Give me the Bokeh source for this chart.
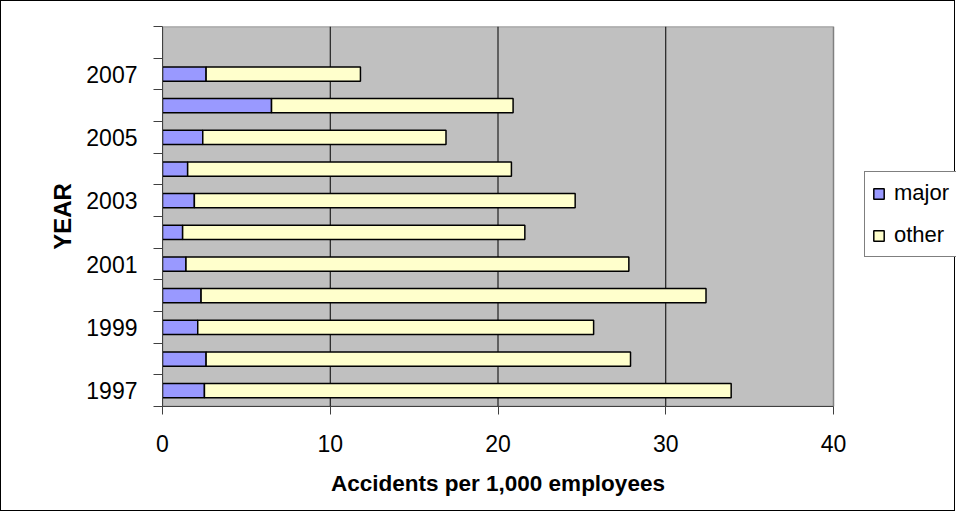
from bokeh.plotting import figure
from bokeh.models import Range1d, FixedTicker, Legend, LegendItem, ColumnDataSource, Title
from bokeh.embed import file_html
from bokeh.resources import INLINE

years = [1997, 1998, 1999, 2000, 2001, 2002, 2003, 2004, 2005, 2006, 2007]
major = [2.5, 2.6, 2.1, 2.3, 1.4, 1.2, 1.9, 1.5, 2.4, 6.5, 2.6]
other = [31.4, 25.3, 23.6, 30.1, 26.4, 20.4, 22.7, 19.3, 14.5, 14.4, 9.2]
series = ["major", "other"]
colors = ["#9999FF", "#FFFFCC"]
x_ticks = [0, 10, 20, 30, 40]
x_title = "Accidents per 1,000 employees"

pos = [i + 1 for i in range(len(years))]
source = ColumnDataSource(dict(y=pos, major=major, other=other))

FONT = "Liberation Sans"

X_MAX = x_ticks[-1]
Y_LO, Y_HI = 0.5, len(years) + 1.5
# frame extends to the right edge so the legend can sit inside it; the plot area is drawn as a quad
LEFT, RIGHT_PX, W = 161, 832, 955
x_end = X_MAX * (W - LEFT) / (RIGHT_PX - LEFT)

p = figure(width=W, height=511, output_backend="svg", toolbar_location=None,
           x_range=Range1d(0, x_end), y_range=Range1d(Y_LO, Y_HI),
           min_border_left=LEFT, min_border_top=25, min_border_right=0, min_border_bottom=106)
p.styles = {"border": "1px solid black"}
p.background_fill_color = "white"
p.border_fill_color = "white"
p.outline_line_color = None
p.xgrid.grid_line_color = None
p.ygrid.grid_line_color = None

# plot area
p.quad(left=[0], right=[X_MAX], bottom=[Y_LO], top=[Y_HI],
       fill_color="#C0C0C0", line_color="#808080", line_width=1.5)
# vertical grid lines
inner = x_ticks[1:-1]
p.segment(x0=inner, x1=inner, y0=[Y_LO] * len(inner), y1=[Y_HI] * len(inner),
          line_color="black", line_width=1)

renderers = p.hbar_stack(series, y="y", height=0.45, color=colors, source=source,
                         line_color="black", line_width=1.5)

# x axis
xa = p.xaxis[0]
xa.ticker = FixedTicker(ticks=x_ticks)
xa.bounds = (0, X_MAX)
xa.major_label_text_font = FONT
xa.major_label_text_font_size = "23px"
xa.major_label_text_color = "black"
xa.major_label_standoff = 20
xa.major_tick_out = 8
xa.major_tick_in = 0
xa.minor_tick_out = 0
xa.minor_tick_in = 0
xa.axis_line_color = "#404040"
xa.major_tick_line_color = "#404040"

# x axis title, centred under the grey plot area (0..40)
plot_w = RIGHT_PX - LEFT
text_w = 334
p.add_layout(Title(text=x_title, align="left", offset=plot_w / 2 - text_w / 2,
                   text_font=FONT, text_font_style="bold", text_font_size="22.5px",
                   text_color="black", standoff=29), "below")

# y axis
ya = p.yaxis[0]
label_pos = pos[::2]
ya.ticker = FixedTicker(ticks=label_pos, minor_ticks=[i + 0.5 for i in range(len(years) + 2)])
ya.major_label_overrides = {pp: str(yr) for pp, yr in zip(pos, years)}
ya.axis_label = "YEAR"
ya.axis_label_text_font = FONT
ya.axis_label_text_font_style = "bold"
ya.axis_label_text_font_size = "24px"
ya.axis_label_text_color = "black"
ya.axis_label_standoff = 7
ya.major_label_text_font = FONT
ya.major_label_text_font_size = "23px"
ya.major_label_text_color = "black"
ya.major_label_standoff = 16
ya.major_tick_out = 0
ya.major_tick_in = 0
ya.minor_tick_out = 9
ya.minor_tick_in = 0
ya.minor_tick_line_color = "#404040"
ya.axis_line_color = "#404040"

legend = Legend(items=[LegendItem(label=s, renderers=[r]) for s, r in zip(series, renderers)],
                location=(702, 149), margin=0, padding=7,
                glyph_width=13, glyph_height=13, label_standoff=9,
                label_height=28, spacing=14,
                label_text_font=FONT, label_text_font_size="22px",
                label_text_color="black",
                border_line_color="black", border_line_width=1,
                background_fill_color="white", background_fill_alpha=1)
p.add_layout(legend, "center")

open("out.html", "w").write(file_html(p, INLINE))
